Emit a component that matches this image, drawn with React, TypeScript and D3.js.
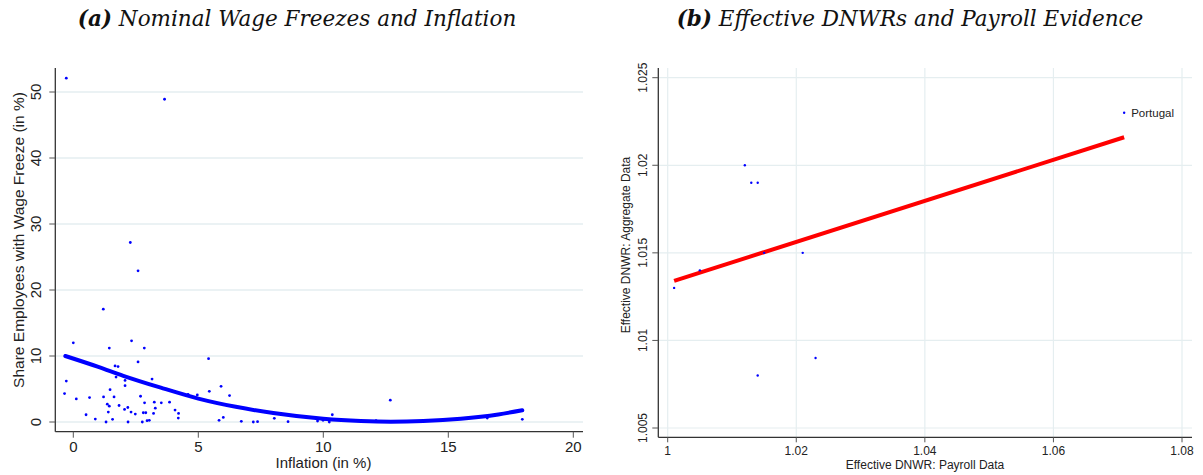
import React from "react";
import * as d3 from "d3";

// ---------- Panel (a) data ----------
const inflation: number[] = [
  -0.28, 3.65, 2.28, 2.59, 1.2, 2.33, 0.0, 1.44, 2.84, 5.41, 2.59, 1.67, 1.79,
  -0.28, 1.71, 2.07, 2.07, 3.15, 5.91, 1.47, -0.35, 5.44, 0.65, 1.21, 1.63, 2.69,
  4.59, 4.96, 6.25, 0.12, 1.36, 1.44, 2.85, 3.24, 3.52, 3.85, 1.83, 3.28, 2.18,
  2.05, 4.07, 1.4, 2.31, 4.21, 2.48, 2.8, 2.9, 3.21, 0.51, 4.2, 6.0, 0.88, 1.57,
  5.83, 2.95, 3.04, 1.31, 2.19, 2.76, 6.72, 7.2, 7.37, 8.04, 8.59, 9.77, 9.99,
  10.24, 10.36, 12.11, 12.68, 16.56, 17.96,
];
const wageFreezeShare: number[] = [
  52.1, 48.9, 27.2, 22.9, 17.1, 12.3, 12.0, 11.2, 11.2, 9.6, 9.1, 8.5, 8.4,
  6.2, 6.8, 6.3, 5.5, 6.5, 5.4, 4.9, 4.3, 4.65, 3.7, 3.8, 3.8, 3.9,
  4.2, 4.1, 4.0, 3.5, 2.7, 2.4, 2.9, 3.0, 2.9, 3.0, 2.5, 2.1, 2.2,
  1.9, 1.8, 1.5, 1.5, 1.3, 1.2, 1.4, 1.4, 1.3, 1.1, 0.6, 0.7, 0.45, 0.4,
  0.25, 0.2, 0.25, 0.0, 0.0, 0.0, 0.1, 0.0, 0.05, 0.55, 0.05, 0.15, 0.25,
  0.0, 1.1, 0.2, 3.3, 0.6, 0.4,
];
// quadratic fit line
const fitAX: number[] = [-0.32, 1, 2, 3.5, 5, 6.5, 8, 10, 11.5, 12.7, 14, 15.5, 17, 17.96];
const fitAY: number[] = [10.0, 8.35, 7.0, 5.2, 3.55, 2.3, 1.35, 0.48, 0.15, 0.05, 0.15, 0.5, 1.15, 1.77];
const xTicksA: number[] = [0, 5, 10, 15, 20];
const yTicksA: number[] = [0, 10, 20, 30, 40, 50];

// ---------- Panel (b) data ----------
const dnwrPayroll: number[] = [1.012, 1.013, 1.014, 1.015, 1.021, 1.005, 1.001, 1.014, 1.023, 1.071];
const dnwrAggregate: number[] = [1.02, 1.019, 1.019, 1.015, 1.015, 1.014, 1.013, 1.008, 1.009, 1.023];
const labelsB: string[] = ["", "", "", "", "", "", "", "", "", "Portugal"];
const fitBX: number[] = [1.001, 1.071];
const fitBY: number[] = [1.0134, 1.0216];
const xTicksB: number[] = [1, 1.02, 1.04, 1.06, 1.08];
const yTicksB: number[] = [1.005, 1.01, 1.015, 1.02, 1.025];

const SANS = "'Liberation Sans', Arial, sans-serif";
const SERIF = "'DejaVu Serif', 'Liberation Serif', serif";
const GRID = "#e5eef0";
const AXIS = "#333";

export default function App() {
  // panel a scales
  const xa = d3.scaleLinear().domain([0, 20]).range([73.3, 573.3]);
  const ya = d3.scaleLinear().domain([0, 50]).range([422, 92]);
  const a = { left: 55.3, right: 583, top: 68, bottom: 431.7 };
  const lineA = d3
    .line<number>()
    .x((_, i) => xa(fitAX[i]))
    .y((d) => ya(d))
    .curve(d3.curveMonotoneX);

  // panel b scales
  const xb = d3.scaleLinear().domain([1, 1.08]).range([667.7, 1182]);
  const yb = d3.scaleLinear().domain([1.005, 1.025]).range([428, 77.7]);
  const b = { left: 658.3, right: 1192, top: 68, bottom: 437.3 };

  const fmtB = (v: number) => String(+v.toFixed(3));

  return (
    <svg width={1203} height={475} style={{ display: "block", position: "absolute", left: 0, top: 0 }}>
      <rect x={0} y={0} width={1203} height={475} fill="#fff" />
      {/* Titles */}
      <text x={297} y={26} textAnchor="middle" fontFamily={SERIF} fontStyle="italic" fontSize={21.5} fill="#111">
        <tspan fontWeight="bold">(a)</tspan> Nominal Wage Freezes and Inflation
      </text>
      <text x={910} y={26} textAnchor="middle" fontFamily={SERIF} fontStyle="italic" fontSize={21.5} fill="#111">
        <tspan fontWeight="bold">(b)</tspan> Effective DNWRs and Payroll Evidence
      </text>

      {/* ---------------- Panel a ---------------- */}
      {yTicksA.map((t) => (
        <line key={"ga" + t} x1={a.left} x2={a.right} y1={ya(t)} y2={ya(t)} stroke={GRID} strokeWidth={1.4} />
      ))}
      {inflation.map((v, i) => (
        <circle key={"pa" + i} cx={xa(v)} cy={ya(wageFreezeShare[i])} r={1.4} fill="#0000ff" />
      ))}
      <path d={lineA(fitAY) || ""} fill="none" stroke="#0000ff" strokeWidth={4} strokeLinecap="round" />
      <line x1={a.left} x2={a.left} y1={a.top} y2={a.bottom} stroke={AXIS} strokeWidth={1.3} />
      <line x1={a.left} x2={a.right} y1={a.bottom} y2={a.bottom} stroke={AXIS} strokeWidth={1.3} />
      {yTicksA.map((t) => (
        <g key={"ya" + t}>
          <line x1={a.left - 6} x2={a.left} y1={ya(t)} y2={ya(t)} stroke="#555" strokeWidth={1} />
          <text transform={`translate(${41},${ya(t)}) rotate(-90)`} textAnchor="middle" fontFamily={SANS} fontSize={15} fill="#222">
            {t}
          </text>
        </g>
      ))}
      {xTicksA.map((t) => (
        <g key={"xa" + t}>
          <line x1={xa(t)} x2={xa(t)} y1={a.bottom} y2={a.bottom + 6} stroke="#555" strokeWidth={1} />
          <text x={xa(t)} y={452} textAnchor="middle" fontFamily={SANS} fontSize={15} fill="#222">
            {t}
          </text>
        </g>
      ))}
      <text x={323.5} y={468} textAnchor="middle" fontFamily={SANS} fontSize={15} fill="#222">
        Inflation (in %)
      </text>
      <text transform={`translate(${24},${240}) rotate(-90)`} textAnchor="middle" fontFamily={SANS} fontSize={15.5} fill="#222">
        Share Employees with Wage Freeze (in %)
      </text>

      {/* ---------------- Panel b ---------------- */}
      {yTicksB.map((t) => (
        <line key={"gby" + t} x1={b.left} x2={b.right} y1={yb(t)} y2={yb(t)} stroke={GRID} strokeWidth={1.2} />
      ))}
      {xTicksB.map((t) => (
        <line key={"gbx" + t} x1={xb(t)} x2={xb(t)} y1={b.top} y2={b.bottom} stroke={GRID} strokeWidth={1.2} />
      ))}
      <line
        x1={xb(fitBX[0])}
        x2={xb(fitBX[1])}
        y1={yb(fitBY[0])}
        y2={yb(fitBY[1])}
        stroke="#ff0000"
        strokeWidth={4}
      />
      {dnwrPayroll.map((v, i) => (
        <g key={"pb" + i}>
          <circle cx={xb(v)} cy={yb(dnwrAggregate[i])} r={1.2} fill="#0000ff" />
          {labelsB[i] && (
            <text x={xb(v) + 7} y={yb(dnwrAggregate[i]) + 4} fontFamily={SANS} fontSize={11.5} fill="#222">
              {labelsB[i]}
            </text>
          )}
        </g>
      ))}
      <line x1={b.left} x2={b.left} y1={b.top} y2={b.bottom} stroke={AXIS} strokeWidth={1.3} />
      <line x1={b.left} x2={b.right} y1={b.bottom} y2={b.bottom} stroke={AXIS} strokeWidth={1.3} />
      {yTicksB.map((t) => (
        <g key={"yb" + t}>
          <line x1={b.left - 6} x2={b.left} y1={yb(t)} y2={yb(t)} stroke="#555" strokeWidth={1} />
          <text transform={`translate(${647},${yb(t)}) rotate(-90)`} textAnchor="middle" fontFamily={SANS} fontSize={12} fill="#222">
            {fmtB(t)}
          </text>
        </g>
      ))}
      {xTicksB.map((t) => (
        <g key={"xb" + t}>
          <line x1={xb(t)} x2={xb(t)} y1={b.bottom} y2={b.bottom + 5} stroke="#555" strokeWidth={1} />
          <text x={xb(t)} y={455} textAnchor="middle" fontFamily={SANS} fontSize={12} fill="#222">
            {fmtB(t)}
          </text>
        </g>
      ))}
      <text x={925} y={469} textAnchor="middle" fontFamily={SANS} fontSize={12} fill="#222">
        Effective DNWR: Payroll Data
      </text>
      <text transform={`translate(${630},${245}) rotate(-90)`} textAnchor="middle" fontFamily={SANS} fontSize={12} fill="#222">
        Effective DNWR: Aggregate Data
      </text>
    </svg>
  );
}
